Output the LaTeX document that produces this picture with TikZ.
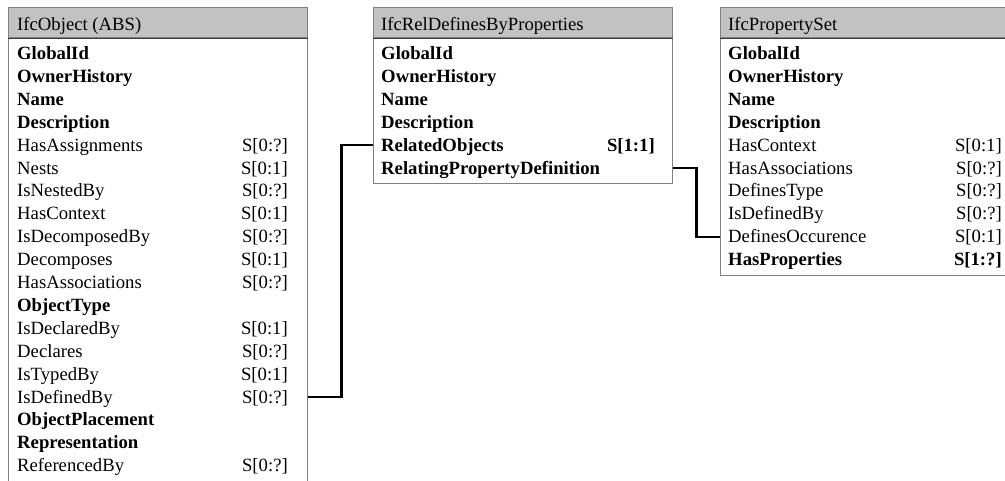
\documentclass[tikz,border=0pt]{standalone}
\usepackage{fontspec}
\setmainfont{Liberation Serif}
\definecolor{headgray}{RGB}{194,194,194}
\definecolor{framegray}{RGB}{128,128,128}
\definecolor{ruledark}{RGB}{60,60,60}
\tikzset{
  x=1pt, y=1pt,
  entity/.style={draw=framegray, line width=1.3pt, fill=white, anchor=north west,
    inner sep=0pt, minimum width=299pt},
  entityhead/.style={draw=framegray, line width=1.3pt, fill=headgray, anchor=north west,
    inner sep=0pt, minimum width=299pt, minimum height=30pt},
  headrule/.style={draw=ruledark, line width=1.5pt},
  attr/.style={anchor=west, inner sep=0pt, text height=12pt, text depth=0pt,
    font=\fontsize{18.7}{22}\selectfont},
  card/.style={attr, anchor=east},
  link/.style={draw=black, line width=2.4pt}
}
\begin{document}
\begin{tikzpicture}
\useasboundingbox (0,0) rectangle (1005,-480);

% ---------- IfcObject ----------
\node[entity, minimum height=490pt] (objbox) at (8,-7) {};
\node[entityhead] (objhead) at (8,-7) {};
\draw[headrule] (objhead.south west) -- (objhead.south east);
\node[attr] (objtitle) at (17,-24) {IfcObject (ABS)};
\foreach \t [count=\i from 0] in {
  {\textbf{GlobalId}}, {\textbf{OwnerHistory}}, {\textbf{Name}}, {\textbf{Description}},
  HasAssignments, Nests, IsNestedBy, HasContext, IsDecomposedBy, Decomposes,
  HasAssociations, {\textbf{ObjectType}}, IsDeclaredBy, Declares, IsTypedBy,
  IsDefinedBy, {\textbf{ObjectPlacement}}, {\textbf{Representation}}, ReferencedBy}
  \node[attr] (o\i) at (17,{-53.5-22.9*\i}) {\t};
\foreach \i/\c in {4/S[0:?], 5/S[0:1], 6/S[0:?], 7/S[0:1], 8/S[0:?], 9/S[0:1],
  10/S[0:?], 12/S[0:1], 13/S[0:?], 14/S[0:1], 15/S[0:?], 18/S[0:?]}
  \node[card] (oc\i) at (288,{-53.5-22.9*\i}) {\c};

% ---------- IfcRelDefinesByProperties ----------
\node[entity, minimum height=176pt] (relbox) at (373,-7) {};
\node[entityhead] (relhead) at (373,-7) {};
\draw[headrule] (relhead.south west) -- (relhead.south east);
\node[attr] (reltitle) at (381,-24) {IfcRelDefinesByProperties};
\foreach \t [count=\i from 0] in {
  GlobalId, OwnerHistory, Name, Description, RelatedObjects, RelatingPropertyDefinition}
  \node[attr, font=\fontsize{18.7}{22}\selectfont\bfseries] (r\i) at (381,{-53.5-22.9*\i}) {\t};
\node[card, font=\fontsize{18.7}{22}\selectfont\bfseries] (rc4) at (655,{-53.5-22.9*4}) {S[1:1]};

% ---------- IfcPropertySet ----------
\node[entity, minimum height=268pt] (psetbox) at (720,-7) {};
\node[entityhead] (psethead) at (720,-7) {};
\draw[headrule] (psethead.south west) -- (psethead.south east);
\node[attr] (psettitle) at (728,-24) {IfcPropertySet};
\foreach \t [count=\i from 0] in {
  {\textbf{GlobalId}}, {\textbf{OwnerHistory}}, {\textbf{Name}}, {\textbf{Description}},
  HasContext, HasAssociations, DefinesType, IsDefinedBy, DefinesOccurence,
  {\textbf{HasProperties}}}
  \node[attr] (p\i) at (728,{-53.5-22.9*\i}) {\t};
\foreach \i/\c in {4/S[0:1], 5/S[0:?], 6/S[0:?], 7/S[0:?], 8/S[0:1], 9/{\textbf{S[1:?]}}}
  \node[card] (pc\i) at (1002,{-53.5-22.9*\i}) {\c};

% ---------- relationships ----------
\draw[link] (objbox.east |- o15.west) -- ++(33,0) |- (relbox.west |- r4.west);
\draw[link] (relbox.east |- r5.west) -- ++(23,0) |- (psetbox.west |- p8.west);
\end{tikzpicture}
\end{document}
